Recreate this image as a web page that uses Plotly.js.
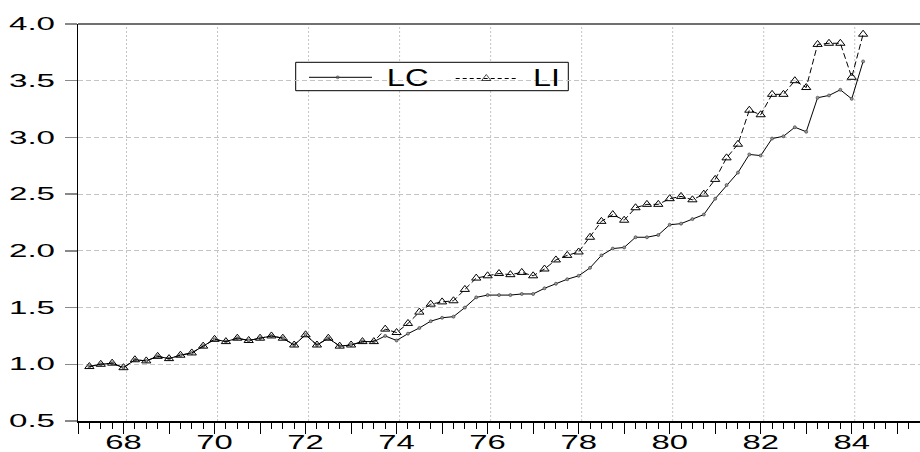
<!DOCTYPE html>
<html>
<head>
<meta charset="utf-8">
<script src="https://cdn.plot.ly/plotly-3.0.1.min.js"></script>
<style>
html,body{margin:0;padding:0;background:#fff;}
#chart{width:920px;height:452px;}
</style>
</head>
<body>
<div id="chart"></div>
<script>
const quarters = ["1967Q2","1967Q3","1967Q4",
"1968Q1","1968Q2","1968Q3","1968Q4","1969Q1","1969Q2","1969Q3","1969Q4",
"1970Q1","1970Q2","1970Q3","1970Q4","1971Q1","1971Q2","1971Q3","1971Q4",
"1972Q1","1972Q2","1972Q3","1972Q4","1973Q1","1973Q2","1973Q3","1973Q4",
"1974Q1","1974Q2","1974Q3","1974Q4","1975Q1","1975Q2","1975Q3","1975Q4",
"1976Q1","1976Q2","1976Q3","1976Q4","1977Q1","1977Q2","1977Q3","1977Q4",
"1978Q1","1978Q2","1978Q3","1978Q4","1979Q1","1979Q2","1979Q3","1979Q4",
"1980Q1","1980Q2","1980Q3","1980Q4","1981Q1","1981Q2","1981Q3","1981Q4",
"1982Q1","1982Q2","1982Q3","1982Q4","1983Q1","1983Q2","1983Q3","1983Q4",
"1984Q1","1984Q2"];

const LC = [0.98,1.00,1.01,
0.97,1.04,1.03,1.07,1.05,1.08,1.10,1.16,
1.22,1.20,1.23,1.21,1.23,1.25,1.23,1.17,
1.26,1.17,1.23,1.16,1.17,1.20,1.20,1.25,
1.21,1.27,1.32,1.38,1.41,1.42,1.50,1.59,
1.61,1.61,1.61,1.62,1.62,1.67,1.71,1.75,
1.78,1.85,1.96,2.02,2.03,2.12,2.12,2.14,
2.23,2.24,2.28,2.32,2.46,2.58,2.69,2.85,
2.84,2.99,3.01,3.09,3.05,3.35,3.37,3.42,
3.34,3.67];

const LI = [0.98,1.00,1.01,
0.97,1.04,1.03,1.07,1.05,1.08,1.10,1.16,
1.22,1.20,1.23,1.21,1.23,1.25,1.23,1.17,
1.26,1.17,1.23,1.16,1.17,1.20,1.20,1.31,
1.28,1.36,1.46,1.53,1.55,1.56,1.66,1.76,
1.78,1.80,1.79,1.81,1.78,1.84,1.92,1.96,
1.99,2.12,2.26,2.32,2.27,2.38,2.41,2.41,
2.46,2.48,2.45,2.50,2.63,2.82,2.94,3.24,
3.20,3.38,3.38,3.50,3.44,3.82,3.83,3.83,
3.53,3.91];

const seriesNames = ["LC","LI"];
const yearTicks = [1967,1968,1969,1970,1971,1972,1973,1974,1975,1976,1977,1978,1979,1980,1981,1982,1983,1984,1985];
const labelYears = [1968,1970,1972,1974,1976,1978,1980,1982,1984];
const labelText = ["68","70","72","74","76","78","80","82","84"];

// plot-area geometry (pixels) used only for placing the legend
const L = 78, R = 920, T = 24, B = 421;
const px = v => (v - L) / (R - L);
const py = v => (B - v) / (B - T);

const xNum = quarters.map(q => parseInt(q.slice(0,4)) + (parseInt(q.slice(5)) - 1) / 4);
const tickText = yearTicks.map(y => { const i = labelYears.indexOf(y); return i >= 0 ? labelText[i] : ""; });

const FONT = "Liberation Sans, Arial, sans-serif";

const traces = [
  {x: xNum, y: LC, name: seriesNames[0], type: "scatter", mode: "lines+markers",
   line: {color: "#000", width: 1},
   marker: {symbol: "circle", size: 3, color: "#999", line: {color: "#333", width: 0.6}},
   showlegend: false, hoverinfo: "x+y"},
  {x: xNum, y: LI, name: seriesNames[1], type: "scatter", mode: "lines+markers",
   line: {color: "#000", width: 1, dash: "6px,3px"},
   marker: {symbol: "triangle-up-open", size: 8, color: "#000", line: {color: "#000", width: 1}},
   showlegend: false, hoverinfo: "x+y"},
  // legend samples
  {x: [px(309), px(337.7), px(372)], y: [py(77.3), py(77.3), py(77.3)], xaxis: "x3", yaxis: "y3",
   type: "scatter", mode: "lines+markers", line: {color: "#000", width: 1},
   marker: {symbol: "circle", size: [0, 3, 0], color: "#666", line: {color: "#222", width: 0.6}},
   showlegend: false, hoverinfo: "skip"},
  {x: [px(455.7), px(486.3), px(518.3)], y: [py(78.5), py(78.5), py(78.5)], xaxis: "x3", yaxis: "y3",
   type: "scatter", mode: "lines+markers", line: {color: "#000", width: 1, dash: "4px,3px"},
   marker: {symbol: "triangle-up-open", size: [0, 8, 0], color: "#000", line: {color: "#000", width: 1}},
   showlegend: false, hoverinfo: "skip"}
];

const shapes = [];
labelYears.forEach(y => {
  shapes.push({type: "line", xref: "x", yref: "paper", x0: y + 0.066, x1: y + 0.066, y0: 0, y1: 1,
    line: {color: "#c4c4c4", width: 1, dash: "2px,2px"}, layer: "between"});
});
shapes.push({type: "rect", xref: "paper", yref: "paper", x0: px(295.7), x1: px(568.3), y0: py(90.7), y1: py(62.3),
  line: {color: "#000", width: 1}, fillcolor: "#fff", layer: "between"});
shapes.push({type: "line", xref: "paper", yref: "paper", x0: 0, x1: 1, y0: 1, y1: 1,
  line: {color: "#707070", width: 2}, layer: "above"});

const annotations = [
  {text: seriesNames[0], xref: "paper", yref: "paper", x: px(407.5), y: py(78.3), xanchor: "center", yanchor: "middle",
   showarrow: false, font: {family: FONT, size: 23, color: "#000"}},
  {text: seriesNames[1], xref: "paper", yref: "paper", x: px(546.5), y: py(78.3), xanchor: "center", yanchor: "middle",
   showarrow: false, font: {family: FONT, size: 23, color: "#000"}}
];

const layout = {
  width: 920, height: 452,
  margin: {l: L, r: 920 - R, t: T, b: 452 - B, pad: 0},
  paper_bgcolor: "#fff", plot_bgcolor: "#fff",
  showlegend: false,
  xaxis: {range: [1967.0, 1985.5], tickmode: "array", tickvals: yearTicks, ticktext: tickText,
    ticks: "outside", ticklen: 11, tickwidth: 1, tickcolor: "#000",
    minor: {dtick: 0.25, tick0: 1967, ticks: "outside", ticklen: 6, tickwidth: 1, tickcolor: "#000", showgrid: false},
    showgrid: false, zeroline: false, showline: true, linecolor: "#000", linewidth: 1.5,
    tickfont: {family: FONT, size: 20.5, color: "#000"}, ticklabelstandoff: -9},
  yaxis: {range: [0.5, 4.0], tickmode: "linear", tick0: 0.5, dtick: 0.5, tickformat: ".1f",
    ticks: "outside", ticklen: 12, tickwidth: 1.5, tickcolor: "#888",
    showgrid: true, gridcolor: "#c4c4c4", gridwidth: 1, griddash: "5px,3px",
    zeroline: false, showline: true, linecolor: "#000", linewidth: 1.5,
    tickfont: {family: FONT, size: 17.5, color: "#000"}, ticklabelstandoff: 6},
  xaxis3: {overlaying: "x", range: [0, 1], visible: false, fixedrange: true},
  yaxis3: {overlaying: "y", range: [0, 1], visible: false, fixedrange: true},
  shapes: shapes,
  annotations: annotations
};

function stretchText(gd) {
  gd.querySelectorAll(".ytick text").forEach(t => {
    if (t.textContent.length) { t.setAttribute("textLength", 46); t.setAttribute("lengthAdjust", "spacingAndGlyphs"); }
  });
  gd.querySelectorAll(".xtick text").forEach(t => {
    if (t.textContent.length) { t.setAttribute("textLength", 36.5); t.setAttribute("lengthAdjust", "spacingAndGlyphs"); }
  });
  gd.querySelectorAll("text.annotation-text").forEach(t => {
    const w = t.textContent === "LC" ? 41.7 : 27;
    t.setAttribute("textLength", w); t.setAttribute("lengthAdjust", "spacingAndGlyphs");
  });
}

Plotly.newPlot("chart", traces, layout, {displayModeBar: false, staticPlot: true}).then(stretchText);
</script>
</body>
</html>
